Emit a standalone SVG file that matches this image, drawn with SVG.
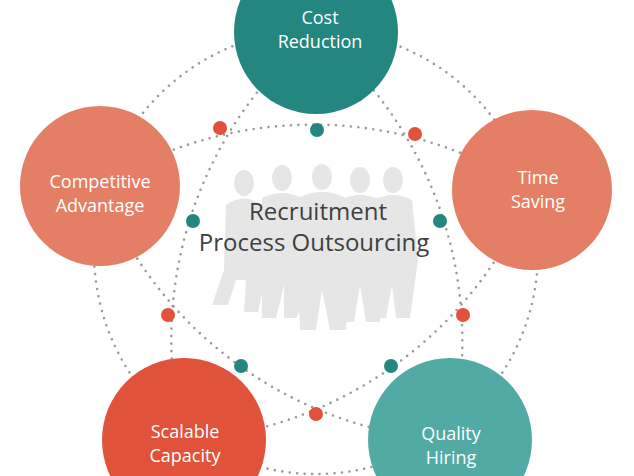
<svg xmlns="http://www.w3.org/2000/svg" width="634" height="476" viewBox="0 0 634 476">
<style>
.dot{fill:none;stroke:#9a9a9a;stroke-width:2.6;stroke-dasharray:0 7.5;stroke-linecap:round}
.lbl{font-family:"Open Sans",sans-serif;font-size:18px;fill:#fff;text-anchor:middle}
.ctr{font-family:"Open Sans",sans-serif;font-size:24px;fill:#404040;text-anchor:middle}
.sil{fill:#e6e6e6}
.r{fill:#e0533a}.t{fill:#23877f}
</style>
<rect width="634" height="476" fill="#fff"/>
<g id="silhouettes" class="sil">
<ellipse cx="244" cy="183" rx="10" ry="13"/><path d="M226 205 Q244 192 262 205 L266 275 L258 312 L244 312 L246 280 L236 280 L228 305 L212 305 L224 270 Z"/>
<ellipse cx="282" cy="178" rx="10" ry="13"/><path d="M262 198 Q282 188 302 198 L306 300 L296 318 L284 318 L284 285 L276 318 L262 318 L262 270 Z"/>
<ellipse cx="322" cy="177" rx="10" ry="13"/><path d="M300 197 Q322 187 344 197 L348 300 L346 330 L330 330 L322 290 L316 330 L300 330 L298 270 Z"/>
<ellipse cx="360" cy="180" rx="10" ry="13"/><path d="M340 200 Q360 190 380 200 L384 290 L380 322 L366 322 L360 285 L354 322 L342 322 L338 270 Z"/>
<ellipse cx="393" cy="180" rx="10" ry="13"/><path d="M374 200 Q393 190 412 200 L418 260 L410 318 L396 318 L392 285 L386 318 L374 318 L372 260 Z"/>
</g>
<g id="connectors">
<circle class="dot" cx="316" cy="252" r="222"/>
<path class="dot" d="M100 186 A400 400 0 0 1 532 190"/>
<path class="dot" d="M316 32 A400 400 0 0 1 450 440"/>
<path class="dot" d="M532 190 A400 400 0 0 1 184 440"/>
<path class="dot" d="M450 440 A400 400 0 0 1 100 186"/>
<path class="dot" d="M184 440 A400 400 0 0 1 316 32"/>
<circle class="r" cx="220" cy="128" r="7"/><circle class="r" cx="415" cy="134" r="7"/><circle class="r" cx="463" cy="315" r="7"/><circle class="r" cx="316" cy="414" r="7"/><circle class="r" cx="168" cy="315" r="7"/>
<circle class="t" cx="317" cy="130" r="7"/><circle class="t" cx="440" cy="221" r="7"/><circle class="t" cx="391" cy="366" r="7"/><circle class="t" cx="241" cy="366" r="7"/><circle class="t" cx="193" cy="221" r="7"/>
</g>
<g id="center"><text class="ctr" x="318" y="220">Recruitment</text><text class="ctr" x="314" y="251">Process Outsourcing</text></g>
<g id="cost"><circle cx="316" cy="32" r="82" fill="#23877f"/><text class="lbl" x="320" y="24">Cost</text><text class="lbl" x="320" y="48">Reduction</text></g>
<g id="time"><circle cx="532" cy="190" r="80" fill="#e47f66"/><text class="lbl" x="538" y="184">Time</text><text class="lbl" x="538" y="208">Saving</text></g>
<g id="quality"><circle cx="450" cy="440" r="82" fill="#52aaa5"/><text class="lbl" x="451" y="440">Quality</text><text class="lbl" x="451" y="464">Hiring</text></g>
<g id="scalable"><circle cx="184" cy="440" r="82" fill="#e0533a"/><text class="lbl" x="185" y="438">Scalable</text><text class="lbl" x="185" y="462">Capacity</text></g>
<g id="competitive"><circle cx="100" cy="186" r="80" fill="#e47f66"/><text class="lbl" x="100" y="188">Competitive</text><text class="lbl" x="100" y="212">Advantage</text></g>
</svg>
